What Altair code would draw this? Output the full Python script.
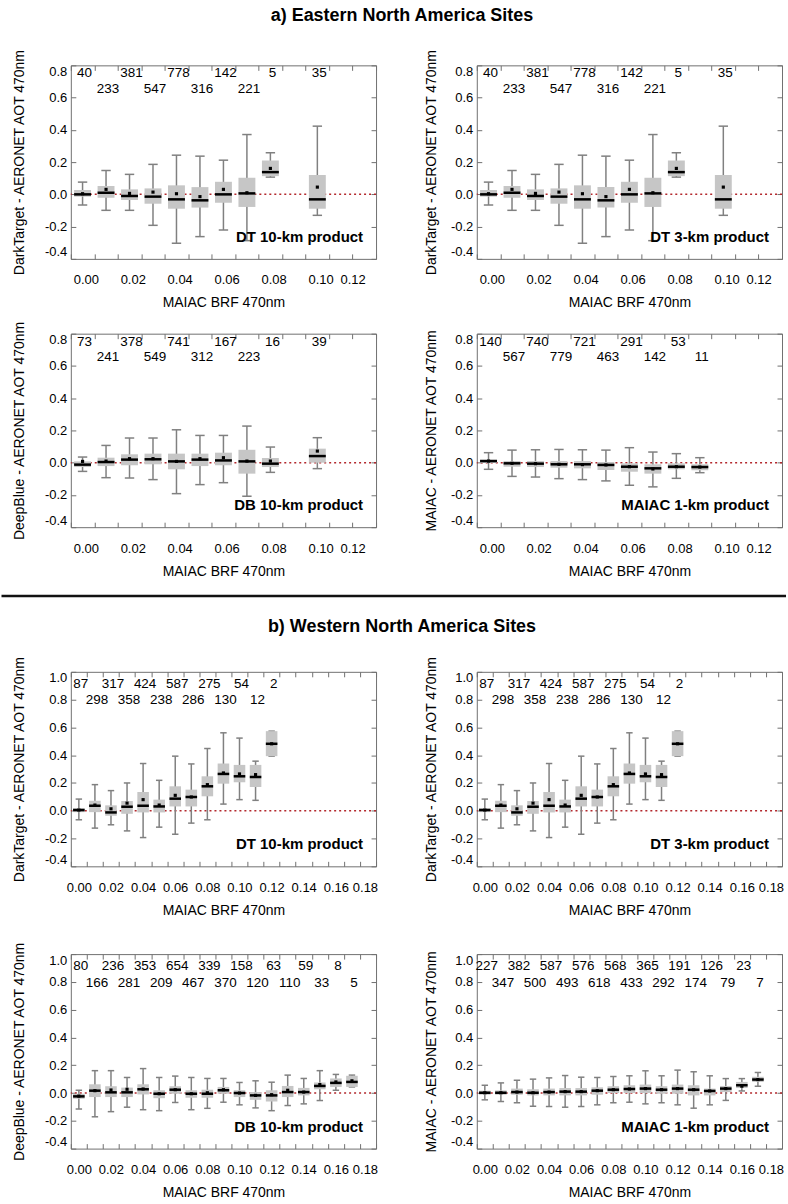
import altair as alt
import pandas as pd

FONT = "Liberation Sans"

TITLE_A = "a) Eastern North America Sites"
TITLE_B = "b) Western North America Sites"
X_TITLE = "MAIAC BRF 470nm"
YT_DT = "DarkTarget - AERONET AOT 470nm"
YT_DB = "DeepBlue - AERONET AOT 470nm"
YT_MA = "MAIAC - AERONET AOT 470nm"

# axis tick values
A_XTICKS = [0.00, 0.01, 0.02, 0.03, 0.04, 0.05, 0.06, 0.07, 0.08, 0.09, 0.10, 0.11, 0.12, 0.13]
B_XTICKS = [0.00, 0.01, 0.02, 0.03, 0.04, 0.05, 0.06, 0.07, 0.08, 0.09, 0.10,
            0.11, 0.12, 0.13, 0.14, 0.15, 0.16, 0.17, 0.18, 0.19]
A_YTICKS = [-0.4, -0.2, 0.0, 0.2, 0.4, 0.6, 0.8]
B_YTICKS = [-0.4, -0.2, 0.0, 0.2, 0.4, 0.6, 0.8, 1.0]

# ---- a) Eastern sites, DarkTarget (10-km and 3-km look identical) ----
A_DT_BIN = [0.005, 0.015, 0.025, 0.035, 0.045, 0.055, 0.065, 0.075, 0.085, 0.105]
A_DT_N = [40, 233, 381, 547, 778, 316, 142, 221, 5, 35]
A_DT_LO = [-0.066, -0.099, -0.099, -0.192, -0.303, -0.262, -0.221, -0.287, 0.107, -0.130]
A_DT_Q1 = [-0.014, -0.021, -0.035, -0.058, -0.089, -0.082, -0.052, -0.078, 0.113, -0.089]
A_DT_MED = [0.000, 0.010, -0.010, -0.014, -0.031, -0.037, 0.000, 0.006, 0.138, -0.031]
A_DT_Q3 = [0.027, 0.052, 0.031, 0.037, 0.056, 0.045, 0.078, 0.103, 0.210, 0.120]
A_DT_HI = [0.076, 0.148, 0.124, 0.186, 0.243, 0.237, 0.212, 0.371, 0.258, 0.423]
A_DT_MEAN = [0.004, 0.031, 0.006, 0.014, 0.004, -0.014, 0.031, 0.010, 0.161, 0.045]

# ---- a) Eastern sites, DeepBlue ----
A_DB_BIN = [0.005, 0.015, 0.025, 0.035, 0.045, 0.055, 0.065, 0.075, 0.085, 0.105]
A_DB_N = [73, 241, 378, 549, 741, 312, 167, 223, 16, 39]
A_DB_LO = [-0.054, -0.093, -0.095, -0.105, -0.192, -0.136, -0.124, -0.208, -0.060, -0.037]
A_DB_Q1 = [-0.027, -0.021, -0.016, -0.010, -0.041, -0.021, -0.016, -0.068, -0.027, 0.000]
A_DB_MED = [-0.012, 0.004, 0.019, 0.021, 0.008, 0.019, 0.014, 0.008, -0.006, 0.041]
A_DB_Q3 = [0.008, 0.031, 0.052, 0.056, 0.056, 0.056, 0.062, 0.080, 0.029, 0.087]
A_DB_HI = [0.035, 0.107, 0.153, 0.153, 0.204, 0.169, 0.169, 0.227, 0.097, 0.155]
A_DB_MEAN = [0.008, 0.010, 0.025, 0.025, 0.008, 0.025, 0.031, 0.010, 0.010, 0.072]

# ---- a) Eastern sites, MAIAC ----
A_MA_BIN = [0.005, 0.015, 0.025, 0.035, 0.045, 0.055, 0.065, 0.075, 0.085, 0.095]
A_MA_N = [140, 567, 740, 779, 721, 463, 291, 142, 53, 11]
A_MA_LO = [-0.041, -0.085, -0.089, -0.099, -0.105, -0.113, -0.140, -0.150, -0.097, -0.062]
A_MA_Q1 = [-0.002, -0.025, -0.027, -0.031, -0.035, -0.045, -0.056, -0.068, -0.041, -0.047]
A_MA_MED = [0.010, -0.004, -0.006, -0.010, -0.010, -0.014, -0.025, -0.035, -0.025, -0.027]
A_MA_Q3 = [0.019, 0.010, 0.010, 0.010, 0.010, 0.004, -0.004, -0.010, -0.004, -0.010]
A_MA_HI = [0.062, 0.078, 0.080, 0.082, 0.080, 0.078, 0.093, 0.066, 0.056, 0.031]
A_MA_MEAN = [0.010, -0.004, -0.006, -0.010, -0.012, -0.014, -0.025, -0.039, -0.025, -0.027]

# ---- b) Western sites, DarkTarget (10-km and 3-km look identical) ----
B_DT_BIN = [0.005, 0.015, 0.025, 0.035, 0.045, 0.055, 0.065, 0.075, 0.085, 0.095, 0.105, 0.115, 0.125]
B_DT_N = [87, 298, 317, 358, 424, 238, 587, 286, 275, 130, 54, 12, 2]
B_DT_LO = [-0.065, -0.125, -0.101, -0.145, -0.193, -0.118, -0.169, -0.089, -0.065, 0.048, 0.080, 0.075, 0.393]
B_DT_Q1 = [-0.010, -0.010, -0.036, -0.022, -0.012, -0.012, 0.031, 0.031, 0.104, 0.195, 0.205, 0.171, 0.393]
B_DT_MED = [0.005, 0.036, -0.012, 0.029, 0.036, 0.031, 0.087, 0.099, 0.176, 0.265, 0.248, 0.243, 0.482]
B_DT_Q3 = [0.019, 0.072, 0.039, 0.070, 0.135, 0.080, 0.176, 0.152, 0.248, 0.340, 0.330, 0.330, 0.573]
B_DT_HI = [0.084, 0.188, 0.145, 0.200, 0.340, 0.219, 0.393, 0.337, 0.448, 0.561, 0.523, 0.357, 0.573]
B_DT_MEAN = [0.005, 0.041, 0.014, 0.055, 0.080, 0.041, 0.111, 0.099, 0.188, 0.272, 0.265, 0.260, 0.482]

# ---- b) Western sites, DeepBlue ----
B_DB_BIN = [0.005, 0.015, 0.025, 0.035, 0.045, 0.055, 0.065, 0.075, 0.085,
            0.095, 0.105, 0.115, 0.125, 0.135, 0.145, 0.155, 0.165, 0.175]
B_DB_N = [80, 166, 236, 281, 353, 209, 654, 467, 339, 370, 158, 120, 63, 110, 59, 33, 8, 5]
B_DB_LO = [-0.115, -0.171, -0.134, -0.102, -0.120, -0.127, -0.068, -0.120, -0.110,
           -0.066, -0.085, -0.107, -0.127, -0.090, -0.078, -0.054, 0.020, 0.044]
B_DB_Q1 = [-0.041, -0.029, -0.029, -0.029, -0.010, -0.037, -0.005, -0.034, -0.034,
           -0.005, -0.029, -0.049, -0.061, -0.029, -0.017, 0.027, 0.044, 0.044]
B_DB_MED = [-0.024, 0.017, 0.005, 0.005, 0.027, -0.005, 0.024, -0.005, -0.005,
            0.020, 0.000, -0.017, -0.017, 0.007, 0.007, 0.051, 0.073, 0.080]
B_DB_Q3 = [-0.005, 0.063, 0.049, 0.039, 0.063, 0.020, 0.049, 0.020, 0.024,
           0.044, 0.020, 0.007, 0.020, 0.051, 0.037, 0.076, 0.105, 0.124]
B_DB_HI = [0.020, 0.161, 0.161, 0.112, 0.176, 0.112, 0.122, 0.112, 0.105,
           0.105, 0.076, 0.088, 0.078, 0.129, 0.105, 0.161, 0.134, 0.129]
B_DB_MEAN = [-0.022, 0.017, 0.022, 0.027, 0.029, -0.005, 0.024, -0.005, 0.002,
             0.024, 0.000, -0.017, -0.012, 0.020, 0.007, 0.061, 0.080, 0.088]

# ---- b) Western sites, MAIAC ----
B_MA_BIN = [0.005, 0.015, 0.025, 0.035, 0.045, 0.055, 0.065, 0.075, 0.085,
            0.095, 0.105, 0.115, 0.125, 0.135, 0.145, 0.155, 0.165, 0.175]
B_MA_N = [227, 347, 382, 500, 587, 493, 576, 618, 568, 433, 365, 292, 191, 174, 126, 79, 23, 7]
B_MA_LO = [-0.049, -0.061, -0.070, -0.095, -0.097, -0.102, -0.097, -0.085, -0.070,
           -0.066, -0.078, -0.070, -0.085, -0.109, -0.085, -0.053, 0.015, 0.049]
B_MA_Q1 = [-0.012, -0.012, -0.012, -0.017, -0.017, -0.017, -0.017, -0.012, 0.000,
           0.000, 0.000, -0.005, -0.005, -0.017, -0.017, 0.007, 0.036, 0.080]
B_MA_MED = [0.002, 0.002, 0.007, 0.002, 0.007, 0.010, 0.010, 0.017, 0.024,
            0.029, 0.032, 0.024, 0.032, 0.024, 0.015, 0.032, 0.056, 0.097]
B_MA_Q3 = [0.017, 0.019, 0.032, 0.027, 0.032, 0.036, 0.036, 0.041, 0.049,
           0.056, 0.061, 0.049, 0.061, 0.056, 0.032, 0.051, 0.080, 0.117]
B_MA_HI = [0.056, 0.073, 0.092, 0.100, 0.109, 0.126, 0.114, 0.112, 0.119,
           0.124, 0.160, 0.124, 0.165, 0.153, 0.124, 0.104, 0.104, 0.148]
B_MA_MEAN = [0.002, 0.002, 0.007, 0.002, 0.007, 0.010, 0.010, 0.017, 0.024,
             0.029, 0.032, 0.024, 0.032, 0.024, 0.015, 0.032, 0.049, 0.097]

# ---- styling ----
BOX_FILL = "#c6c6c6"
WHISKER = "#808080"
FRAME = "#707070"
ZERO_RED = "#b3282d"
A_COUNT_LEVELS = (0.75, 0.655)
B_COUNT_LEVELS = (0.915, 0.795)


def panel(bins, n, lo, q1, med, q3, hi, mean, xticks, yticks, ytitle, product,
          levels, width, height, title_pad, lab_off, last_off):
    df = pd.DataFrame({"bin": bins, "n": n, "lo": lo, "q1": q1, "med": med,
                       "q3": q3, "hi": hi, "mean": mean})
    xs = alt.Scale(domain=[xticks[0], xticks[-1]], nice=False, zero=False)
    ys = alt.Scale(domain=[yticks[0], yticks[-1]], nice=False, zero=False)
    last_lab = xticks[-2]
    base = alt.Chart(df).transform_calculate(
        xl="datum.bin - 0.0036", xr="datum.bin + 0.0036",
        cl="datum.bin - 0.002", cr="datum.bin + 0.002",
        lvl=f"(round((datum.bin - 0.005) * 100) % 2 == 0) ? {levels[0]} : {levels[1]}",
    )
    bottom_axis = alt.Axis(
        orient="bottom", values=xticks, tickSize=5, offset=-5, domain=False, grid=False,
        labelExpr="round(datum.value * 100) % 2 == 0 ? format(datum.value, '.2f') : ''",
        labelAlign="center",
        labelOffset={"condition": {"test": f"datum.value > {last_lab - 0.005}", "value": last_off},
                     "value": lab_off},
        labelPadding=15, labelFlush=False, labelOverlap=False,
        title=X_TITLE, titlePadding=9)
    left_axis = alt.Axis(
        orient="left", values=yticks, tickSize=5, offset=-5, domain=False, grid=False,
        labelExpr="(datum.value < -0.001 ? '-' : '') + format(abs(datum.value), '.1f')",
        labelPadding=4, labelFlush=True, labelOverlap=False,
        title=ytitle, titlePadding=title_pad)
    top_axis = alt.Axis(orient="top", values=xticks, tickSize=5, offset=-5, domain=False,
                        grid=False, labels=False, title=None)
    right_axis = alt.Axis(orient="right", values=yticks, tickSize=5, offset=-5, domain=False,
                          grid=False, labels=False, title=None)

    zero = alt.Chart(pd.DataFrame({"zero": [0.0]})).mark_rule(
        color=ZERO_RED, strokeDash=[2, 3], strokeWidth=1.5
    ).encode(y=alt.Y("zero:Q", scale=ys, axis=None))
    whisk = base.mark_rule(color=WHISKER, strokeWidth=1.5).encode(
        x=alt.X("bin:Q", scale=xs, axis=bottom_axis),
        y=alt.Y("lo:Q", scale=ys, axis=left_axis),
        y2="hi:Q")
    cap_lo = base.mark_rule(color=WHISKER, strokeWidth=1.5).encode(
        x=alt.X("cl:Q", scale=xs, axis=None), x2="cr:Q",
        y=alt.Y("lo:Q", scale=ys, axis=None))
    cap_hi = base.mark_rule(color=WHISKER, strokeWidth=1.5).encode(
        x=alt.X("cl:Q", scale=xs, axis=None), x2="cr:Q",
        y=alt.Y("hi:Q", scale=ys, axis=None))
    box = base.mark_rect(color=BOX_FILL).encode(
        x=alt.X("xl:Q", scale=xs, axis=top_axis), x2="xr:Q",
        y=alt.Y("q1:Q", scale=ys, axis=right_axis), y2="q3:Q")
    median = base.mark_rule(color="black", strokeWidth=2.5).encode(
        x=alt.X("xl:Q", scale=xs, axis=None), x2="xr:Q",
        y=alt.Y("med:Q", scale=ys, axis=None))
    mean_pt = base.mark_square(color="black", size=10, opacity=1).encode(
        x=alt.X("bin:Q", scale=xs, axis=None),
        y=alt.Y("mean:Q", scale=ys, axis=None))
    counts = base.mark_text(fontSize=13.5, color="black", align="center",
                            baseline="middle", dx=2).encode(
        x=alt.X("bin:Q", scale=xs, axis=None),
        y=alt.Y("lvl:Q", scale=ys, axis=None),
        text=alt.Text("n:Q", format="d"))
    prod = alt.Chart(pd.DataFrame({"label": [product]})).mark_text(
        fontSize=15, fontWeight="bold", color="black", align="right", baseline="middle"
    ).encode(x=alt.value(width - 13), y=alt.value(height - 22), text="label:N")

    return alt.layer(zero, whisk, cap_lo, cap_hi, box, median, mean_pt, counts, prod).resolve_axis(
        x="independent", y="independent"
    ).properties(width=width, height=height)


def blank(w, h):
    return alt.Chart(pd.DataFrame({"v": [0]})).mark_rule(opacity=0).encode(
        x=alt.value(0), x2=alt.value(1), y=alt.value(0)
    ).properties(width=w, height=h, view=alt.ViewBackground(stroke=None))


def title_cell(text, w, h, ty, divider_y=None):
    d = pd.DataFrame({"t": [text]})
    layers = [
        alt.Chart(d).mark_rule(opacity=0).encode(x=alt.value(0), x2=alt.value(1), y=alt.value(0)),
        alt.Chart(d).mark_text(fontSize=18, fontWeight="bold", color="black",
                               align="center", baseline="middle").encode(
            text="t:N", x=alt.value(332), y=alt.value(ty)),
    ]
    if divider_y is not None:
        layers.append(alt.Chart(d).mark_rule(color="#111111", strokeWidth=2.5).encode(
            x=alt.value(-69.5), x2=alt.value(717), y=alt.value(divider_y)))
    return alt.layer(*layers).properties(width=w, height=h, view=alt.ViewBackground(stroke=None))


W0, W1 = 306, 306
HA, HB = 194, 195
A_OFF, A_LAST = 15, 0
B_OFF, B_LAST = 8, 5
PAD_L, PAD_R = 18, 12

a1 = panel(A_DT_BIN, A_DT_N, A_DT_LO, A_DT_Q1, A_DT_MED, A_DT_Q3, A_DT_HI, A_DT_MEAN,
           A_XTICKS, A_YTICKS, YT_DT, "DT 10-km product", A_COUNT_LEVELS, W0, HA, PAD_L, A_OFF, A_LAST)
a2 = panel(A_DT_BIN, A_DT_N, A_DT_LO, A_DT_Q1, A_DT_MED, A_DT_Q3, A_DT_HI, A_DT_MEAN,
           A_XTICKS, A_YTICKS, YT_DT, "DT 3-km product", A_COUNT_LEVELS, W1, HA, PAD_R, A_OFF, A_LAST)
a3 = panel(A_DB_BIN, A_DB_N, A_DB_LO, A_DB_Q1, A_DB_MED, A_DB_Q3, A_DB_HI, A_DB_MEAN,
           A_XTICKS, A_YTICKS, YT_DB, "DB 10-km product", A_COUNT_LEVELS, W0, HA, PAD_L, A_OFF, A_LAST)
a4 = panel(A_MA_BIN, A_MA_N, A_MA_LO, A_MA_Q1, A_MA_MED, A_MA_Q3, A_MA_HI, A_MA_MEAN,
           A_XTICKS, A_YTICKS, YT_MA, "MAIAC 1-km product", A_COUNT_LEVELS, W1, HA, PAD_R, A_OFF, A_LAST)
b1 = panel(B_DT_BIN, B_DT_N, B_DT_LO, B_DT_Q1, B_DT_MED, B_DT_Q3, B_DT_HI, B_DT_MEAN,
           B_XTICKS, B_YTICKS, YT_DT, "DT 10-km product", B_COUNT_LEVELS, W0, HB, PAD_L, B_OFF, B_LAST)
b2 = panel(B_DT_BIN, B_DT_N, B_DT_LO, B_DT_Q1, B_DT_MED, B_DT_Q3, B_DT_HI, B_DT_MEAN,
           B_XTICKS, B_YTICKS, YT_DT, "DT 3-km product", B_COUNT_LEVELS, W1, HB, PAD_R, B_OFF, B_LAST)
b3 = panel(B_DB_BIN, B_DB_N, B_DB_LO, B_DB_Q1, B_DB_MED, B_DB_Q3, B_DB_HI, B_DB_MEAN,
           B_XTICKS, B_YTICKS, YT_DB, "DB 10-km product", B_COUNT_LEVELS, W0, HB, PAD_L, B_OFF, B_LAST)
b4 = panel(B_MA_BIN, B_MA_N, B_MA_LO, B_MA_Q1, B_MA_MED, B_MA_Q3, B_MA_HI, B_MA_MEAN,
           B_XTICKS, B_YTICKS, YT_MA, "MAIAC 1-km product", B_COUNT_LEVELS, W1, HB, PAD_R, B_OFF, B_LAST)

cells = [
    title_cell(TITLE_A, W0, 64, 15), blank(W1, 64),
    a1, a2,
    blank(W0, 75), blank(W1, 75),
    a3, a4,
    title_cell(TITLE_B, W0, 145, 100, divider_y=69), blank(W1, 145),
    b1, b2,
    blank(W0, 88), blank(W1, 88),
    b3, b4,
]

chart = alt.concat(
    *cells, columns=2, spacing={"row": 0, "column": 101}, bounds="flush", padding=0
).configure(font=FONT).configure_view(
    stroke=FRAME, strokeWidth=1
).configure_axis(
    labelFont=FONT, titleFont=FONT, labelFontSize=13, titleFontSize=14,
    titleFontWeight="normal", labelColor="black", titleColor="black",
    tickColor=FRAME, tickWidth=1
)

chart.save("out.html", embed_options={"renderer": "svg", "actions": False})
